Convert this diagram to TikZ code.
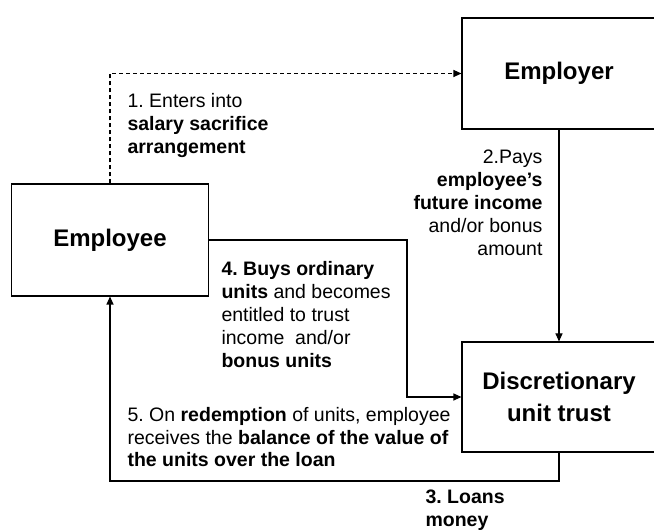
\documentclass[tikz,border=0pt]{standalone}
\usepackage{fontspec}
\setmainfont{Liberation Sans}
\frenchspacing
\usetikzlibrary{calc, arrows.meta}
\tikzstyle{party} = [draw, rectangle, line width=1.1pt, inner sep=0pt,
minimum width=194pt, minimum height=111pt, align=center,
font=\fontsize{24}{31.5}\selectfont\bfseries]
\tikzstyle{note} = [inner sep=0pt, align=left, anchor=base west, font=\fontsize{19.5}{23.2}\selectfont]

\begin{document}
\begin{tikzpicture}[x=1pt,y=1pt,>={Triangle[length=8pt,width=7pt]},line width=1.1pt]
      \useasboundingbox (0,0) rectangle (654,530);
      \node [party, minimum width=197pt, minimum height=112pt] (ee) at (110,290) {Employee};
      \node [party] (er) at (559,456.5) {Employer};
      \node [party, minimum height=110pt] (dut) at (559,133) {Discretionary\\unit trust};
      \node [coordinate] (buy) at (407,290) {};
      \node [coordinate] (loan) at (559,49) {};
      % labels (anchored at the baseline of their last line)
      \node [note] (l1) at (127,376) {1. Enters into\\\textbf{salary sacrifice}\\\textbf{arrangement}};
      \node [note, anchor=base east, align=right] (l2) at (543,274) {2.Pays\\\textbf{employee’s}\\\textbf{future income}\\and/or bonus\\amount};
      \node [note] (l4) at (221,162) {\textbf{4. Buys ordinary}\\\textbf{units} and becomes\\entitled to trust\\income\ \ and/or\\\textbf{bonus units}};
      \node [note, font=\fontsize{19.5}{22.5}\selectfont] (l5) at (127,63) {5. On \textbf{redemption} of units, employee\\receives the \textbf{balance of the value of}\\\textbf{the units over the loan}};
      \node [note, font=\fontsize{19.5}{23.2}\selectfont\bfseries] (l3) at (425,3) {3. Loans\\money};
      % connectors
      \draw[->, dash pattern=on 4pt off 3pt] (ee.north) |- (er.west);
      \draw[->] (er) edge (dut);
      \draw[->] (ee.east) -- (buy) |- (dut.west);
      \draw[->] (dut.south) -- (loan) -| (ee.south);
\end{tikzpicture}
\end{document}
